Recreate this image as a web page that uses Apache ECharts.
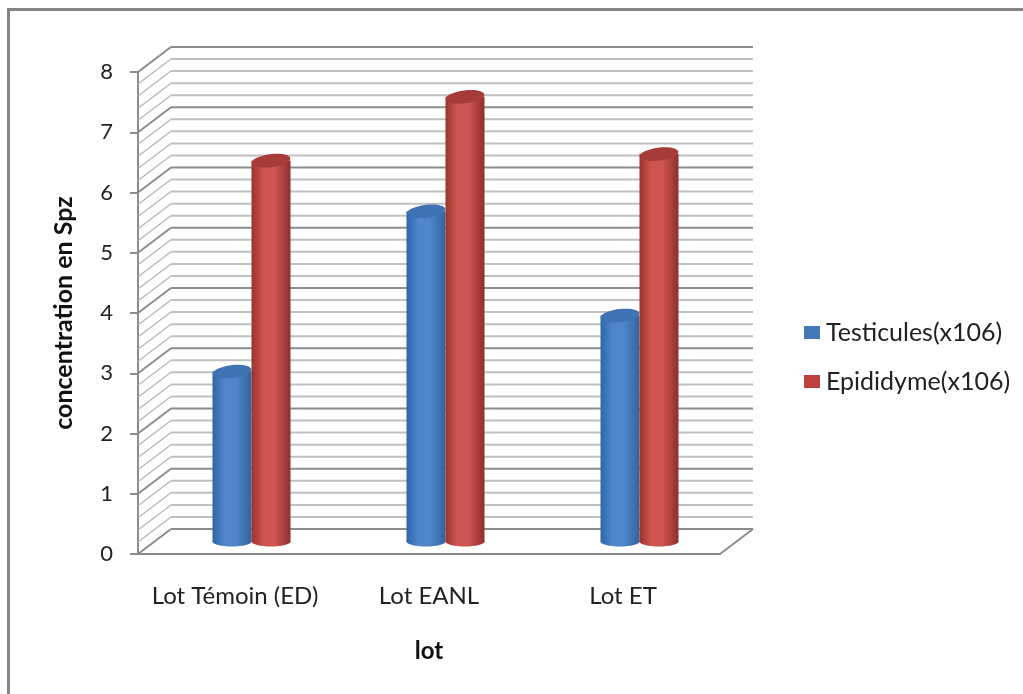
<!DOCTYPE html>
<html>
<head>
<meta charset="utf-8">
<style>html,body{margin:0;padding:0;background:#fff}#main{width:1023px;height:694px}</style>
<script src="https://cdn.jsdelivr.net/npm/echarts@6/dist/echarts.min.js"></script>
</head>
<body>
<div id="main"></div>
<script>
var categories = ['Lot Témoin (ED)', 'Lot EANL', 'Lot ET'];
var testicules = [2.82, 5.48, 3.75];
var epididyme = [6.32, 7.38, 6.43];
var majorLevels = [0, 1, 2, 3, 4, 5, 6, 7, 8];
var minorLevels = [
	0.2, 0.4, 0.6, 0.8,
	1.2, 1.4, 1.6, 1.8,
	2.2, 2.4, 2.6, 2.8,
	3.2, 3.4, 3.6, 3.8,
	4.2, 4.4, 4.6, 4.8,
	5.2, 5.4, 5.6, 5.8,
	6.2, 6.4, 6.6, 6.8,
	7.2, 7.4, 7.6, 7.8
];

var DEPTH_X = 33, DEPTH_Y = -25, BAR_W = 39, RY = 6.5;
var FONT = 'Lato';

function wall(major) {
	return function (params, api) {
		var v = api.value(1);
		var g = params.coordSys;
		var y = api.coord([0, v])[1];
		var kids = [{
			type: 'line',
			shape: {x1: g.x, y1: y, x2: g.x + DEPTH_X, y2: y + DEPTH_Y},
			style: {stroke: major ? '#8c8c8c' : '#b4b4b4', lineWidth: major ? 2 : 1.2}
		}, {
			type: 'line',
			shape: {x1: g.x + DEPTH_X, y1: y + DEPTH_Y, x2: g.x + g.width + DEPTH_X, y2: y + DEPTH_Y},
			style: {stroke: major ? '#8c8c8c' : '#c0c0c0', lineWidth: 2}
		}];
		if (v === 0) {
			kids.push({
				type: 'line',
				shape: {x1: g.x + g.width, y1: y, x2: g.x + g.width + DEPTH_X, y2: y + DEPTH_Y},
				style: {stroke: '#8c8c8c', lineWidth: 2}
			});
		}
		return {type: 'group', children: kids};
	};
}

function cylinder(side, edgeL, mid, edgeR, topColor) {
	return function (params, api) {
		var top = api.coord([api.value(0), api.value(1)]);
		var base = api.coord([api.value(0), 0]);
		var cx = top[0] + DEPTH_X / 2 + side * BAR_W / 2;
		var yTop = top[1] + DEPTH_Y / 2;
		var yBase = base[1] + DEPTH_Y / 2;
		var fill = new echarts.graphic.LinearGradient(0, 0, 1, 0, [
			{offset: 0, color: edgeL},
			{offset: 0.3, color: mid},
			{offset: 0.6, color: mid},
			{offset: 1, color: edgeR}
		]);
		return {type: 'group', children: [{
			type: 'ellipse',
			shape: {cx: cx, cy: yBase, rx: BAR_W / 2, ry: 5},
			style: {fill: fill}
		}, {
			type: 'rect',
			shape: {x: cx - BAR_W / 2, y: yTop, width: BAR_W, height: yBase - yTop},
			style: {fill: fill}
		}, {
			type: 'ellipse',
			shape: {cx: cx, cy: yTop, rx: BAR_W / 2, ry: RY},
			originX: cx, originY: yTop, rotation: 0.12,
			style: {fill: topColor}
		}]};
	};
}

function levelRows(list) {
	return list.map(function (v) { return [0, v]; });
}

var chart = echarts.init(document.getElementById('main'));
chart.setOption({
	animation: false,
	backgroundColor: '#fff',
	textStyle: {fontFamily: FONT},
	grid: {left: 138, right: 303, top: 72, bottom: 140},
	graphic: [{
		type: 'polyline',
		shape: {points: [[8.5, 694], [8.5, 9.5], [1023, 9.5]]},
		style: {stroke: '#858585', fill: null, lineWidth: 3}
	}],
	legend: {
		data: ['Testicules(x106)', 'Epididyme(x106)'],
		orient: 'vertical',
		left: 799,
		top: 315,
		icon: 'rect',
		itemWidth: 16,
		itemHeight: 13,
		itemGap: 24,
		textStyle: {fontFamily: FONT, fontSize: 25, color: '#222', padding: [0, 0, 0, 1]}
	},
	xAxis: {
		type: 'category',
		data: categories,
		name: 'lot',
		nameLocation: 'middle',
		nameGap: 85,
		nameTextStyle: {fontFamily: FONT, fontSize: 24, fontWeight: 'bold', color: '#111'},
		axisTick: {show: false},
		axisLine: {lineStyle: {color: '#8c8c8c', width: 2}},
		axisLabel: {fontFamily: FONT, fontSize: 24, color: '#222', margin: 30, interval: 0, hideOverlap: false}
	},
	yAxis: {
		type: 'value',
		min: 0,
		max: 8,
		interval: 1,
		name: 'concentration en Spz',
		nameLocation: 'middle',
		nameGap: 62,
		nameTextStyle: {fontFamily: FONT, fontSize: 25, fontWeight: 'bold', color: '#111'},
		splitLine: {show: false},
		axisLine: {show: true, lineStyle: {color: '#8c8c8c', width: 2}},
		axisTick: {show: true, length: 8, lineStyle: {color: '#8c8c8c', width: 2}},
		axisLabel: {fontFamily: FONT, fontSize: 22, color: '#222', margin: 25}
	},
	series: [{
		type: 'custom',
		name: 'minor walls',
		silent: true,
		clip: false,
		z: 1,
		data: levelRows(minorLevels),
		encode: {x: 0, y: 1},
		renderItem: wall(false)
	}, {
		type: 'custom',
		name: 'major walls',
		silent: true,
		clip: false,
		z: 2,
		data: levelRows(majorLevels),
		encode: {x: 0, y: 1},
		renderItem: wall(true)
	}, {
		type: 'custom',
		name: 'Testicules(x106)',
		clip: false,
		z: 3,
		itemStyle: {color: '#4478b8'},
		data: testicules.map(function (v, i) { return [i, v]; }),
		encode: {x: 0, y: 1},
		renderItem: cylinder(-1, '#2f65a6', '#4f86cc', '#33639d', '#3f72b2')
	}, {
		type: 'custom',
		name: 'Epididyme(x106)',
		clip: false,
		z: 4,
		itemStyle: {color: '#c0403d'},
		data: epididyme.map(function (v, i) { return [i, v]; }),
		encode: {x: 0, y: 1},
		renderItem: cylinder(1, '#98332f', '#cf5552', '#8f2e2c', '#a63b38')
	}]
});
</script>
</body>
</html>
